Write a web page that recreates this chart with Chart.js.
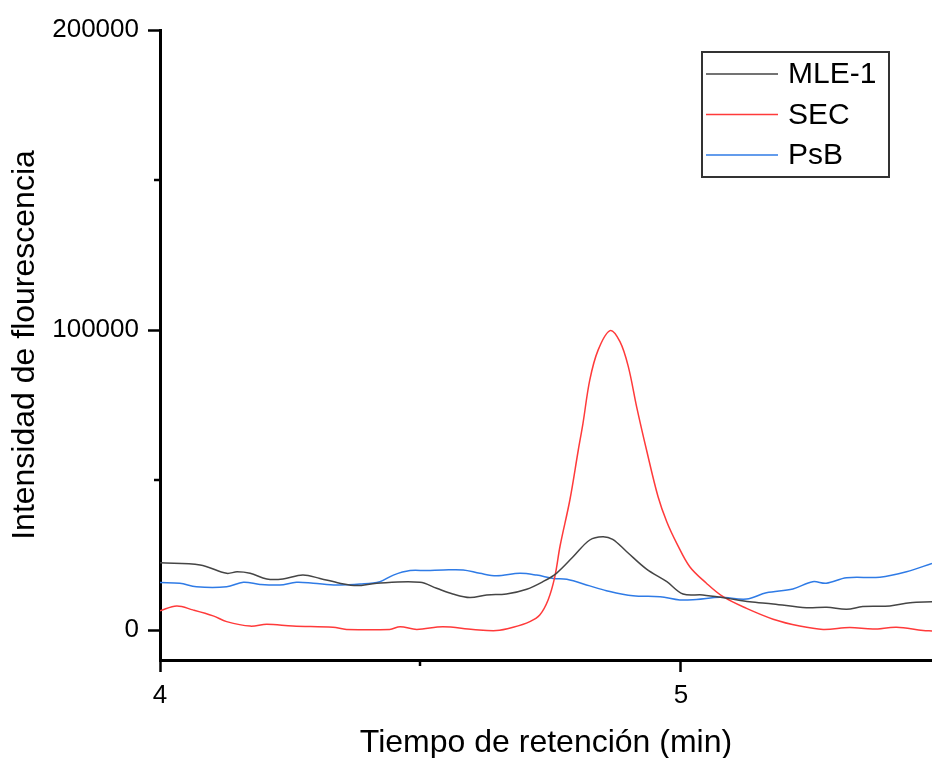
<!DOCTYPE html>
<html>
<head>
<meta charset="utf-8">
<title>Tiempo de retención</title>
<script src="https://cdn.jsdelivr.net/npm/chart.js@4.4.1/dist/chart.umd.min.js"></script>
<style>
  body { margin: 0; background: #fff; }
  canvas { display: block; }
</style>
</head>
<body>
<canvas id="chromChart" width="932" height="758"></canvas>
<script>
// series (time in min, fluorescence intensity)
const seriesLabels = ['MLE-1', 'SEC', 'PsB'];

const mleTime = [4.000, 4.077, 4.128, 4.148, 4.173, 4.205, 4.236, 4.274, 4.307, 4.345, 4.378, 4.416,
  4.499, 4.531, 4.562, 4.595, 4.627, 4.665, 4.704, 4.735, 4.761, 4.793, 4.825, 4.850, 4.869, 4.896,
  4.934, 4.973, 5.004, 5.042, 5.088, 5.132, 5.177, 5.241, 5.280, 5.318, 5.349, 5.401, 5.440, 5.482];
const mleValues = [22400, 21700, 18900, 19400, 18900, 17000, 17000, 18300, 17200, 15600, 14800, 15600,
  15900, 13900, 12000, 10800, 11700, 12000, 13600, 16100, 18900, 24400, 30000, 31100, 30200, 26100,
  20300, 16100, 12000, 11700, 10600, 9400, 8700, 7400, 7600, 6900, 7800, 8000, 9100, 9400];

const secTime = [4.000, 4.032, 4.063, 4.102, 4.128, 4.173, 4.205, 4.255, 4.332, 4.358, 4.441, 4.461,
  4.493, 4.543, 4.601, 4.646, 4.678, 4.710, 4.729, 4.745, 4.758, 4.768, 4.787, 4.803, 4.812, 4.825,
  4.841, 4.864, 4.883, 4.899, 4.915, 4.934, 4.956, 4.973, 4.992, 5.017, 5.049, 5.081, 5.126, 5.177,
  5.228, 5.273, 5.324, 5.369, 5.414, 5.465, 5.482];
const secValues = [6400, 8000, 6700, 4700, 2800, 1300, 1900, 1300, 900, 200, 200, 1100,
  200, 1100, 200, -200, 900, 2800, 5000, 10000, 17800, 28000, 43500, 60000, 68900, 83300,
  93300, 99800, 96100, 87800, 74400, 60000, 44500, 36000, 28900, 21100, 15600, 11100, 7200, 3600,
  1300, 200, 800, 300, 900, -200, -300];

const psbTime = [4.000, 4.038, 4.070, 4.128, 4.160, 4.192, 4.230, 4.262, 4.294, 4.339, 4.384, 4.422,
  4.448, 4.480, 4.512, 4.544, 4.582, 4.614, 4.646, 4.691, 4.723, 4.755, 4.781, 4.825, 4.857, 4.908,
  4.960, 4.998, 5.030, 5.075, 5.126, 5.164, 5.215, 5.253, 5.279, 5.318, 5.382, 5.433, 5.482];
const psbValues = [15800, 15600, 14400, 14400, 15900, 15200, 15000, 15900, 15600, 15000, 15300, 16100,
  18300, 19800, 19800, 20000, 20000, 18900, 18100, 18900, 18300, 17200, 16900, 14700, 13100, 11400,
  11100, 10000, 10200, 10900, 10300, 12400, 13700, 16100, 15600, 17400, 17600, 19400, 22200];

const xMajorTicks = [4, 5];
const xMinorTicks = [4.5];
const yMajorTicks = [0, 100000, 200000];
const yMinorTicks = [50000, 150000];

const lineColors = ['#454545', '#ff3a3a', '#2f7be6'];
const fontFamily = '"Liberation Sans", Arial, sans-serif';

function toPoints(xs, ys) {
  return xs.map((x, i) => ({ x: x, y: ys[i] }));
}

// minor ticks and the boxed legend, drawn after the chart
const extrasPlugin = {
  id: 'extras',
  afterDraw(chart) {
    const ctx = chart.ctx;
    const xs = chart.scales.x;
    const ys = chart.scales.y;
    const area = chart.chartArea;
    ctx.save();
    ctx.strokeStyle = '#000';
    ctx.lineWidth = 2.5;
    xMinorTicks.forEach(v => {
      const px = Math.round(xs.getPixelForValue(v));
      ctx.beginPath();
      ctx.moveTo(px, area.bottom);
      ctx.lineTo(px, area.bottom + 6);
      ctx.stroke();
    });
    yMinorTicks.forEach(v => {
      const py = Math.round(ys.getPixelForValue(v));
      ctx.beginPath();
      ctx.moveTo(area.left, py);
      ctx.lineTo(area.left - 6, py);
      ctx.stroke();
    });

    // legend
    ctx.strokeStyle = '#333';
    ctx.lineWidth = 2;
    ctx.strokeRect(702, 52, 187, 125);
    ctx.font = '30px ' + fontFamily;
    ctx.textBaseline = 'middle';
    ctx.fillStyle = '#000';
    chart.data.datasets.forEach((ds, i) => {
      const y = 74 + i * 40.5;
      ctx.strokeStyle = ds.borderColor;
      ctx.lineWidth = 1.5;
      ctx.beginPath();
      ctx.moveTo(706, y);
      ctx.lineTo(778, y);
      ctx.stroke();
      ctx.fillText(ds.label, 788, y + 1);
    });
    ctx.restore();
  }
};

const ctxChrom = document.getElementById('chromChart').getContext('2d');

new Chart(ctxChrom, {
  type: 'line',
  data: {
    datasets: [
      { label: seriesLabels[0], data: toPoints(mleTime, mleValues), borderColor: lineColors[0] },
      { label: seriesLabels[1], data: toPoints(secTime, secValues), borderColor: lineColors[1] },
      { label: seriesLabels[2], data: toPoints(psbTime, psbValues), borderColor: lineColors[2] }
    ]
  },
  options: {
    responsive: false,
    animation: false,
    layout: { padding: { top: 30, right: 0, left: 0, bottom: 0 } },
    elements: {
      point: { radius: 0 },
      line: { borderWidth: 1.5, tension: 0.35, fill: false }
    },
    plugins: {
      legend: { display: false },
      tooltip: { enabled: false }
    },
    scales: {
      x: {
        type: 'linear',
        min: 4,
        max: 5.482,
        afterBuildTicks: scale => { scale.ticks = xMajorTicks.map(v => ({ value: v })); },
        afterFit: scale => { scale.height = 98; },
        grid: { drawOnChartArea: false, tickLength: 12, tickWidth: 2.5, tickColor: '#000' },
        border: { color: '#000', width: 3 },
        ticks: {
          color: '#000',
          padding: 8,
          maxRotation: 0,
          font: { family: fontFamily, size: 26 },
          callback: v => String(v)
        },
        title: {
          display: true,
          text: 'Tiempo de retención (min)',
          color: '#000',
          padding: { top: 0, bottom: -4 },
          font: { family: fontFamily, size: 32 }
        }
      },
      y: {
        min: -10000,
        max: 200000,
        afterBuildTicks: scale => { scale.ticks = yMajorTicks.map(v => ({ value: v })); },
        afterFit: scale => { scale.width = 160; },
        grid: { drawOnChartArea: false, tickLength: 12, tickWidth: 2.5, tickColor: '#000' },
        border: { color: '#000', width: 3 },
        ticks: {
          color: '#000',
          padding: 9,
          font: { family: fontFamily, size: 26 },
          callback: v => String(v)
        },
        title: {
          display: true,
          text: 'Intensidad de flourescencia',
          color: '#000',
          padding: { top: 6, bottom: 0 },
          font: { family: fontFamily, size: 32 }
        }
      }
    }
  },
  plugins: [extrasPlugin]
});
</script>
</body>
</html>
